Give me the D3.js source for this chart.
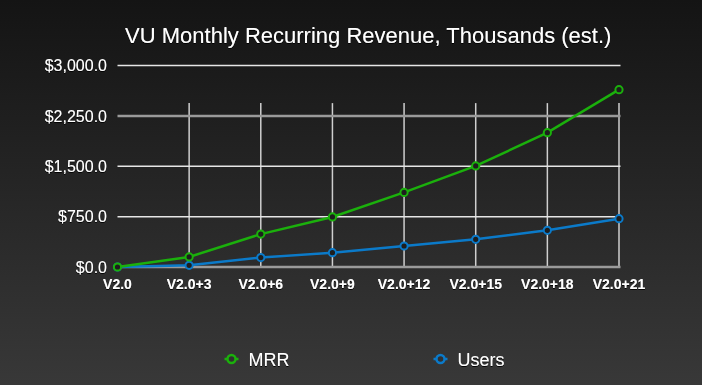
<!DOCTYPE html>
<html>
<head>
<meta charset="utf-8">
<script src="https://cdn.jsdelivr.net/npm/d3@7"></script>
<style>
  html, body { margin: 0; padding: 0; background: #141414; }
  svg { display: block; }
  text { font-family: "Liberation Sans", Arial, sans-serif; fill: #fff; }
</style>
</head>
<body>
<script>
var categories = ["V2.0", "V2.0+3", "V2.0+6", "V2.0+9", "V2.0+12", "V2.0+15", "V2.0+18", "V2.0+21"];
var mrrValues = [0, 150, 490, 745, 1110, 1505, 2000, 2640];
var userValues = [0, 25, 140, 213, 313, 412, 546, 719];
var yTicks = [0, 750, 1500, 2250, 3000];
var seriesNames = ["MRR", "Users"];
var seriesColors = ["#1bb00c", "#0b7ac9"];
var chartTitle = "VU Monthly Recurring Revenue, Thousands (est.)";

var W = 702, H = 385;
var margin = {top: 65.5, right: 83, bottom: 118, left: 117.5};
var width = W - margin.left - margin.right,
    height = H - margin.top - margin.bottom;

var svg = d3.select("body").append("svg")
    .attr("width", W)
    .attr("height", H);

var defs = svg.append("defs");
var grad = defs.append("linearGradient")
    .attr("id", "bg").attr("x1", 0).attr("y1", 0).attr("x2", 0).attr("y2", 1);
grad.append("stop").attr("offset", "0%").attr("stop-color", "#141414");
grad.append("stop").attr("offset", "100%").attr("stop-color", "#383838");

var shadow = defs.append("filter").attr("id", "shadow")
    .attr("x", "-10%").attr("y", "-30%").attr("width", "120%").attr("height", "160%");
shadow.append("feDropShadow")
    .attr("dx", 0).attr("dy", 1).attr("stdDeviation", 0.7)
    .attr("flood-color", "#000").attr("flood-opacity", 0.9);

svg.append("rect").attr("width", W).attr("height", H).attr("fill", "url(#bg)");

var g = svg.append("g")
    .attr("transform", "translate(" + margin.left + "," + margin.top + ")");

var x = d3.scalePoint().domain(categories).range([0, width]);
var y = d3.scaleLinear().domain([0, 3000]).range([height, 0]);

// vertical grid (starts a bit below the top)
var vTop = y(2440);
g.selectAll(".vgrid")
  .data(categories.slice(1))
  .enter().append("line")
    .attr("class", "vgrid")
    .attr("x1", function(d) { return x(d); })
    .attr("x2", function(d) { return x(d); })
    .attr("y1", vTop)
    .attr("y2", height)
    .attr("stroke", "#cfcfcf")
    .attr("stroke-width", 1.5);

// horizontal grid
g.selectAll(".hgrid")
  .data(yTicks)
  .enter().append("line")
    .attr("class", "hgrid")
    .attr("x1", 0)
    .attr("x2", width + 1.5)
    .attr("y1", function(d) { return y(d); })
    .attr("y2", function(d) { return y(d); })
    .attr("stroke", function(d) { return (d === 0 || d === 2250) ? "#9a9a9a" : "#e6e6e6"; })
    .attr("stroke-width", function(d) { return (d === 0 || d === 2250) ? 2.5 : 1.5; });

// y labels
var fmt = d3.format("$,.1f");
g.selectAll(".ylab")
  .data(yTicks)
  .enter().append("text")
    .attr("class", "ylab")
    .attr("x", -10.5)
    .attr("y", function(d) { return y(d); })
    .attr("dy", "0.36em")
    .attr("text-anchor", "end")
    .style("font-size", "16px")
    .attr("filter", "url(#shadow)")
    .text(function(d) { return fmt(d); });

// x labels
g.selectAll(".xlab")
  .data(categories)
  .enter().append("text")
    .attr("class", "xlab")
    .attr("x", function(d) { return x(d); })
    .attr("y", height + 22)
    .attr("text-anchor", "middle")
    .style("font-size", "14px")
    .style("font-weight", "bold")
    .attr("filter", "url(#shadow)")
    .text(function(d) { return d; });

// lines
var series = [
  {name: seriesNames[0], color: seriesColors[0], values: mrrValues},
  {name: seriesNames[1], color: seriesColors[1], values: userValues}
];

var line = d3.line()
    .x(function(d, i) { return x(categories[i]); })
    .y(function(d) { return y(d); });

// draw Users first so MRR sits on top
series.slice().reverse().forEach(function(s) {
  g.append("path")
    .datum(s.values)
    .attr("fill", "none")
    .attr("stroke", s.color)
    .attr("stroke-width", 2.5)
    .attr("d", line);

  g.selectAll(".pt-" + s.name)
    .data(s.values)
    .enter().append("circle")
      .attr("cx", function(d, i) { return x(categories[i]); })
      .attr("cy", function(d) { return y(d); })
      .attr("r", 3.6)
      .attr("fill", "#1e1e1e")
      .attr("stroke", s.color)
      .attr("stroke-width", 2);
});

// title
svg.append("text")
    .attr("x", margin.left + width / 2)
    .attr("y", 43)
    .attr("text-anchor", "middle")
    .style("font-size", "22px")
    .attr("filter", "url(#shadow)")
    .text(chartTitle);

// legend
var legend = svg.selectAll(".legend")
  .data(series)
  .enter().append("g")
    .attr("class", "legend")
    .attr("transform", function(d, i) { return "translate(" + (231.5 + i * 209) + ",359)"; });

legend.append("line")
    .attr("x1", -7).attr("x2", 7)
    .attr("stroke", function(d) { return d.color; })
    .attr("stroke-width", 2.5);

legend.append("circle")
    .attr("r", 4)
    .attr("fill", "#313131")
    .attr("stroke", function(d) { return d.color; })
    .attr("stroke-width", 2.5);

legend.append("text")
    .attr("x", 17)
    .attr("y", 7)
    .style("font-size", "18px")
    .attr("filter", "url(#shadow)")
    .text(function(d) { return d.name; });
</script>
</body>
</html>
